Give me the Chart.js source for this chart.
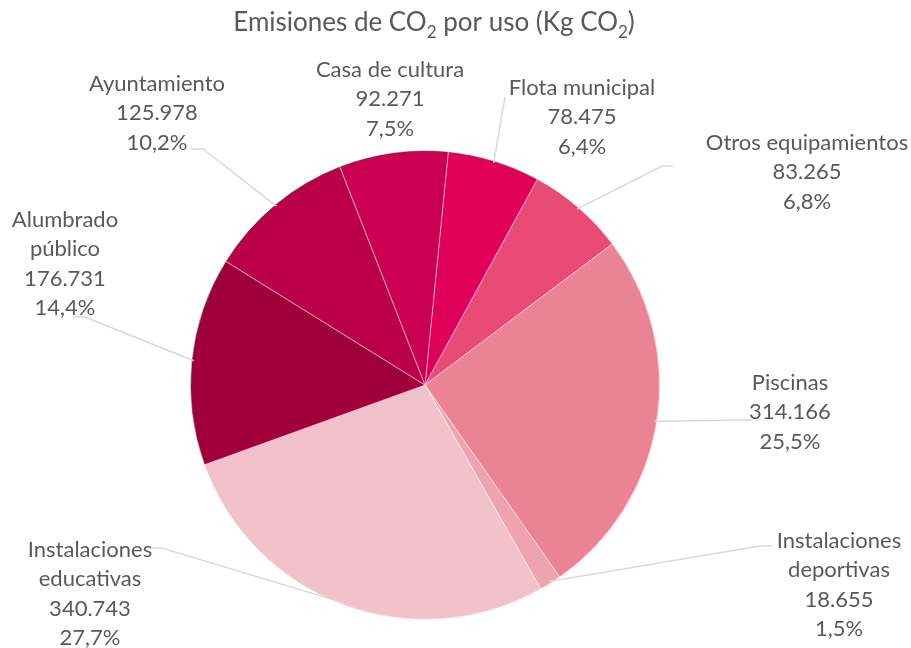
<!DOCTYPE html>
<html>
<head>
<meta charset="utf-8">
<script src="https://cdn.jsdelivr.net/npm/chart.js@4/dist/chart.umd.min.js"></script>
<style>
  body { margin: 0; background: #fff; }
  #wrap { width: 911px; height: 648px; }
</style>
</head>
<body>
<div id="wrap"><canvas id="chart" width="911" height="648"></canvas></div>
<script>
// data, in drawing order clockwise from the top
const categories = ['Flota municipal', 'Otros equipamientos', 'Piscinas', 'Instalaciones deportivas',
  'Instalaciones educativas', 'Alumbrado público', 'Ayuntamiento', 'Casa de cultura'];
const labelLines = [['Flota municipal'], ['Otros equipamientos'], ['Piscinas'], ['Instalaciones', 'deportivas'],
  ['Instalaciones', 'educativas'], ['Alumbrado', 'público'], ['Ayuntamiento'], ['Casa de cultura']];
const emissions = [78475, 83265, 314166, 18655, 340743, 176731, 125978, 92271];
const sliceColors = ['#E0005A', '#E84C76', '#EA8495', '#EEA3AF', '#F2C2CB', '#A0003A', '#BA0048', '#CC0050'];

// where each label sits (center x, first line y) and its leader line
const labelLayout = [
  { x: 582, y: 88, from: [505, 97], elbow: null },
  { x: 807, y: 143, from: [673, 166], elbow: [662, 166] },
  { x: 790, y: 383, from: [753, 420], elbow: null },
  { x: 839, y: 541, from: [772, 546], elbow: [760, 546] },
  { x: 90, y: 550, from: [150, 548], elbow: [162, 548] },
  { x: 65, y: 220, from: [73, 317], elbow: [85, 317] },
  { x: 157, y: 84, from: [191, 149], elbow: [203, 149] },
  { x: 390, y: 70, from: null, elbow: null }
];

const total = emissions.reduce((a, b) => a + b, 0);
const fmtNum = (v) => String(v).replace(/\B(?=(\d{3})+(?!\d))/g, '.');
const fmtPct = (v) => (v / total * 100).toFixed(1).replace('.', ',') + '%';

const textColor = '#595959';
const labelFont = '22px Lato, "Open Sans", sans-serif';

const pieLabels = {
  id: 'pieLabels',
  afterDatasetsDraw(chart) {
    const ctx = chart.ctx;
    const arcs = chart.getDatasetMeta(0).data;
    ctx.save();
    // leader lines
    ctx.strokeStyle = '#D9D9D9';
    ctx.lineWidth = 1.5;
    arcs.forEach((arc, i) => {
      const lay = labelLayout[i];
      if (!lay.from) return;
      const mid = (arc.startAngle + arc.endAngle) / 2;
      const r = arc.outerRadius - 2;
      const ex = arc.x + Math.cos(mid) * r;
      const ey = arc.y + Math.sin(mid) * r;
      ctx.beginPath();
      ctx.moveTo(lay.from[0], lay.from[1]);
      if (lay.elbow) ctx.lineTo(lay.elbow[0], lay.elbow[1]);
      ctx.lineTo(ex, ey);
      ctx.stroke();
    });
    // label text
    ctx.fillStyle = textColor;
    ctx.font = labelFont;
    ctx.textAlign = 'center';
    ctx.textBaseline = 'middle';
    arcs.forEach((arc, i) => {
      const lay = labelLayout[i];
      const lines = labelLines[i].concat([fmtNum(emissions[i]), fmtPct(emissions[i])]);
      lines.forEach((t, k) => ctx.fillText(t, lay.x, lay.y + k * 29.3));
    });

    // title with subscripts
    const parts = [['Emisiones de CO', false], ['2', true], [' por uso (Kg CO', false], ['2', true], [')', false]];
    const big = '26px Lato, "Open Sans", sans-serif';
    const small = '17px Lato, "Open Sans", sans-serif';
    let w = 0;
    parts.forEach(([t, sub]) => { ctx.font = sub ? small : big; w += ctx.measureText(t).width; });
    let x = 434 - w / 2;
    ctx.textAlign = 'left';
    ctx.textBaseline = 'alphabetic';
    parts.forEach(([t, sub]) => {
      ctx.font = sub ? small : big;
      ctx.fillText(t, x, sub ? 38 : 31);
      x += ctx.measureText(t).width;
    });
    ctx.restore();
  }
};

new Chart(document.getElementById('chart'), {
  type: 'pie',
  data: {
    labels: categories,
    datasets: [{
      data: emissions,
      backgroundColor: sliceColors,
      borderColor: 'rgba(255,255,255,0.45)',
      borderWidth: 1,
      hoverOffset: 0
    }]
  },
  options: {
    responsive: false,
    animation: false,
    rotation: 5.7,
    layout: { padding: { top: 150, bottom: 28, left: 190, right: 251 } },
    plugins: {
      legend: { display: false },
      tooltip: { enabled: false },
      title: { display: false }
    }
  },
  plugins: [pieLabels]
});
</script>
</body>
</html>
